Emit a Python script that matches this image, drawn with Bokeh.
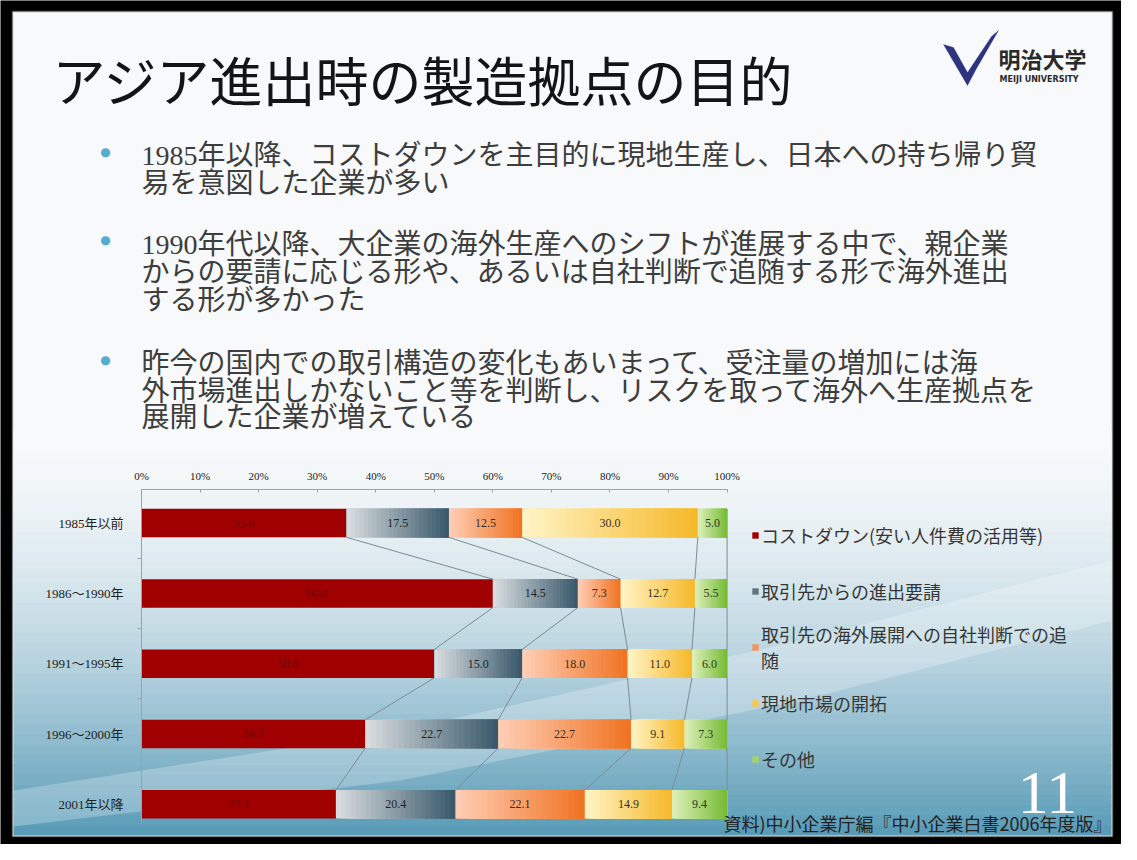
from bokeh.plotting import figure
from bokeh.models import (Range1d, FixedTicker, Label, BoxAnnotation, PolyAnnotation,
                          Legend, LegendItem, ColumnDataSource, PrintfTickFormatter)
from bokeh.core.properties import value
from bokeh.embed import file_html
from bokeh.resources import INLINE

# ---------------- data ----------------
categories = ["1985年以前", "1986～1990年", "1991～1995年", "1996～2000年", "2001年以降"]
series_names = ["コストダウン(安い人件費の活用等)", "取引先からの進出要請",
                "取引先の海外展開への自社判断での追\n随", "現地市場の開拓", "その他"]
cost_down = [35.0, 60.0, 50.0, 38.2, 33.2]
partner_request = [17.5, 14.5, 15.0, 22.7, 20.4]
own_judgement = [12.5, 7.3, 18.0, 22.7, 22.1]
local_market = [30.0, 12.7, 11.0, 9.1, 14.9]
other = [5.0, 5.5, 6.0, 7.3, 9.4]
x_ticks = [0, 10, 20, 30, 40, 50, 60, 70, 80, 90, 100]

title_text = "アジア進出時の製造拠点の目的"
bullets = [
    ["1985年以降、コストダウンを主目的に現地生産し、日本への持ち帰り貿",
     "易を意図した企業が多い"],
    ["1990年代以降、大企業の海外生産へのシフトが進展する中で、親企業",
     "からの要請に応じる形や、あるいは自社判断で追随する形で海外進出",
     "する形が多かった"],
    ["昨今の国内での取引構造の変化もあいまって、受注量の増加には海",
     "外市場進出しかないこと等を判断し、リスクを取って海外へ生産拠点を",
     "展開した企業が増えている"],
]
source_text = "資料)中小企業庁編『中小企業白書2006年度版』"
page_no = "11"

series = [cost_down, partner_request, own_judgement, local_market, other]
light = ["#A00000", "#D8DCDF", "#FFCDB4", "#FFF3C4", "#DCEFB8"]
dark = ["#A00000", "#3A5A6C", "#F07424", "#F6BA2C", "#78BC36"]
legend_cols = ["#A00000", "#5F7785", "#F49464", "#F8C850", "#A2D26E"]
label_cols = ["#6A0A0A", "#222222", "#3A2A20", "#3A3020", "#2A3A20"]

# ---------------- geometry (canvas pixels) ----------------
W, H = 1121, 844
n = len(categories)
ys = [n - 1 - i for i in range(n)]
bar_h = 0.405
PX0, PX100 = 141.0, 726.6          # canvas x of 0% and 100%
PYTOP, PYBOT = 522.6, 803.8        # canvas y of first and last category
sx = (PX100 - PX0) / 100.0
sy = (PYBOT - PYTOP) / (n - 1)
x_range = Range1d(-PX0 / sx, 100 + (W - PX100) / sx)
y_range = Range1d(-(H - PYBOT) / sy, (n - 1) + PYTOP / sy)
axis_top = (n - 1) + (PYTOP - 488.7) / sy
axis_bot = -(824.4 - PYBOT) / sy

p = figure(width=W, height=H, output_backend="svg", toolbar_location=None,
           x_range=x_range, y_range=y_range, x_axis_location="above")
p.min_border = 0
p.min_border_left = p.min_border_right = p.min_border_top = p.min_border_bottom = 0
p.title.visible = False
p.border_fill_color = "black"
p.background_fill_color = "black"
p.outline_line_color = None
p.grid.visible = False


def hexmix(c1, c2, t):
    a = [int(c1[i:i + 2], 16) for i in (1, 3, 5)]
    b = [int(c2[i:i + 2], 16) for i in (1, 3, 5)]
    return "#%02x%02x%02x" % tuple(round(a[k] + (b[k] - a[k]) * t) for k in range(3))


def cbox(l, r, t, b, **kw):
    return BoxAnnotation(left=l, right=r, top=t, bottom=b, left_units="canvas", right_units="canvas",
                         top_units="canvas", bottom_units="canvas", level="underlay", **kw)


# slide background
SL, SR, ST, SB = 12, 1112, 11, 836
p.add_layout(cbox(SL, SR, ST, SB, fill_color="#F7F9FA", fill_alpha=1,
                  line_color="#7a7a7a", line_width=2))
g0, steps = 430, 40
for k in range(steps):
    t0 = g0 + (SB - 1 - g0) * k / steps
    t1 = min(g0 + (SB - 1 - g0) * (k + 1) / steps + 1, SB - 1)
    tt = (k / (steps - 1)) ** 1.6
    p.add_layout(cbox(SL + 1, SR - 1, t0, t1, fill_color=hexmix("#F7F9FA", "#5A9CB8", tt),
                      fill_alpha=1, line_color=None))
p.add_layout(PolyAnnotation(xs=[SL + 1, 400, 800, SR - 1, SR - 1, 800, 400, SL + 1],
                            ys=[790, 730, 640, 560, 620, 700, 780, 826],
                            xs_units="canvas", ys_units="canvas",
                            fill_color="white", fill_alpha=0.25, line_color=None, level="underlay"))

# ---------------- bars ----------------
lefts_all = []
for si in range(len(series)):
    lefts_all.append([sum(series[j][i] for j in range(si)) for i in range(n)])
renderers = []
for si, vals in enumerate(series):
    lefts = lefts_all[si]
    rights = [lefts[i] + vals[i] for i in range(n)]
    r = p.hbar(y=ys, left=lefts, right=rights, height=bar_h,
               fill_color=legend_cols[si], line_color=None)
    renderers.append(r)

# horizontal gradient shading (each strip runs to the segment end -> no seams)
N = 24
gx0, gx1, gy, gc = [], [], [], []
for si in range(1, len(series)):
    for i in range(n):
        a = lefts_all[si][i]
        w = series[si][i]
        for j in range(N):
            gx0.append(a + w * j / N)
            gx1.append(a + w)
            gy.append(ys[i])
            gc.append(hexmix(light[si], dark[si], j / (N - 1)))
p.hbar(y="y", left="l", right="r", height=bar_h, fill_color="c", line_color=None,
       source=ColumnDataSource(dict(y=gy, l=gx0, r=gx1, c=gc)))

# connector lines between bars
cx0, cy0, cx1, cy1 = [], [], [], []
for i in range(n - 1):
    for si in range(len(series)):
        cx0.append(lefts_all[si][i] + series[si][i]); cy0.append(ys[i] - bar_h / 2)
        cx1.append(lefts_all[si][i + 1] + series[si][i + 1]); cy1.append(ys[i + 1] + bar_h / 2)
p.segment(x0=cx0, y0=cy0, x1=cx1, y1=cy1, line_color="#7d8c94", line_width=1)

# value labels
tx, ty, tt_, tc = [], [], [], []
for si, vals in enumerate(series):
    for i in range(n):
        tx.append(lefts_all[si][i] + vals[i] / 2)
        ty.append(ys[i])
        tt_.append("%.1f" % vals[i])
        tc.append(label_cols[si])
p.text(x="x", y="y", text="t", text_color="c", source=ColumnDataSource(dict(x=tx, y=ty, t=tt_, c=tc)),
       text_align="center", text_baseline="middle", text_font=value("Liberation Serif"),
       text_font_size="12px")

# ---------------- axes ----------------
xa = p.xaxis[0]
xa.fixed_location = axis_top
xa.bounds = (0, 100)
xa.ticker = FixedTicker(ticks=x_ticks)
xa.formatter = PrintfTickFormatter(format="%d%%")
xa.major_label_text_font = "Liberation Serif"
xa.major_label_text_font_size = "11px"
xa.major_label_text_color = "#222222"
xa.axis_line_color = "#9aa4a8"
xa.major_tick_line_color = "#9aa4a8"
xa.major_tick_in = 3
xa.major_tick_out = 0
xa.minor_tick_line_color = None
xa.major_label_standoff = 7

ya = p.yaxis[0]
ya.fixed_location = 0
ya.bounds = (axis_bot, axis_top)
ya.ticker = FixedTicker(ticks=ys, minor_ticks=[v + 0.5 for v in ys[1:]])
ya.major_label_overrides = {ys[i]: categories[i] for i in range(n)}
ya.major_label_text_font = "'Liberation Serif', 'Noto Sans CJK JP'"
ya.major_label_text_font_size = "13px"
ya.major_label_text_color = "#222222"
ya.major_tick_line_color = None
ya.minor_tick_line_color = "#9aa4a8"
ya.minor_tick_out = 4
ya.minor_tick_in = 0
ya.axis_line_color = "#9aa4a8"
ya.major_label_standoff = 12

# ---------------- legend ----------------
legend = Legend(items=[LegendItem(label=series_names[i], renderers=[renderers[i]]) for i in range(len(series))],
                location=(751, 58), orientation="vertical")
legend.label_text_font = "Noto Sans CJK JP"
legend.label_text_font_size = "18px"
legend.label_text_color = "#363636"
legend.glyph_width = 8
legend.glyph_height = 8
legend.label_standoff = 2
legend.spacing = 2
legend.label_height = 54
legend.padding = 0
legend.margin = 0
legend.border_line_color = None
legend.background_fill_alpha = 0
p.add_layout(legend)

# ---------------- slide texts ----------------
p.add_layout(Label(x=52, y=78, x_units="canvas", y_units="canvas", text=title_text,
                   text_font="Noto Sans CJK JP", text_font_size="53px", text_color="#141414",
                   text_baseline="middle", text_align="left"))

line_y = [[155, 182.5], [243.5, 272, 299.5], [363, 390.5, 417]]
for bi, lines in enumerate(bullets):
    p.add_layout(Label(x=105, y=line_y[bi][0] - 4, x_units="canvas", y_units="canvas", text="●",
                       text_font="DejaVu Sans", text_font_size="12px", text_color="#55AAD0",
                       text_baseline="middle", text_align="center"))
    for li, line in enumerate(lines):
        p.add_layout(Label(x=141, y=line_y[bi][li], x_units="canvas", y_units="canvas", text=line,
                           text_font="'Liberation Serif', 'Noto Sans CJK JP'", text_font_size="28px",
                           text_color="#3d3d3d", text_baseline="middle", text_align="left"))

# logo
p.add_layout(PolyAnnotation(xs=[943, 953, 967, 991, 998, 976, 967],
                            ys=[44, 47, 72, 36, 30, 68, 85],
                            xs_units="canvas", ys_units="canvas",
                            fill_color="#2E3380", fill_alpha=1, line_color="#2E3380", line_width=1))
p.add_layout(Label(x=998, y=57, x_units="canvas", y_units="canvas", text="明治大学",
                   text_font="Noto Sans CJK JP", text_font_size="22px", text_font_style="bold",
                   text_color="#2a2a2a", text_baseline="middle", text_align="left"))
p.add_layout(Label(x=999, y=79, x_units="canvas", y_units="canvas", text="MEIJI UNIVERSITY",
                   text_font="DejaVu Sans", text_font_size="8px", text_font_style="bold",
                   text_color="#2a2a2a", text_baseline="middle", text_align="left"))

# page number & source
p.add_layout(Label(x=1047, y=792, x_units="canvas", y_units="canvas", text=page_no,
                   text_font="Liberation Serif", text_font_size="62px", text_color="white",
                   text_baseline="middle", text_align="center"))
p.add_layout(Label(x=1111, y=822, x_units="canvas", y_units="canvas", text=source_text,
                   text_font="Noto Sans CJK JP", text_font_size="18px", text_color="#222222",
                   text_baseline="middle", text_align="right"))

open("out.html", "w").write(file_html(p, INLINE))
